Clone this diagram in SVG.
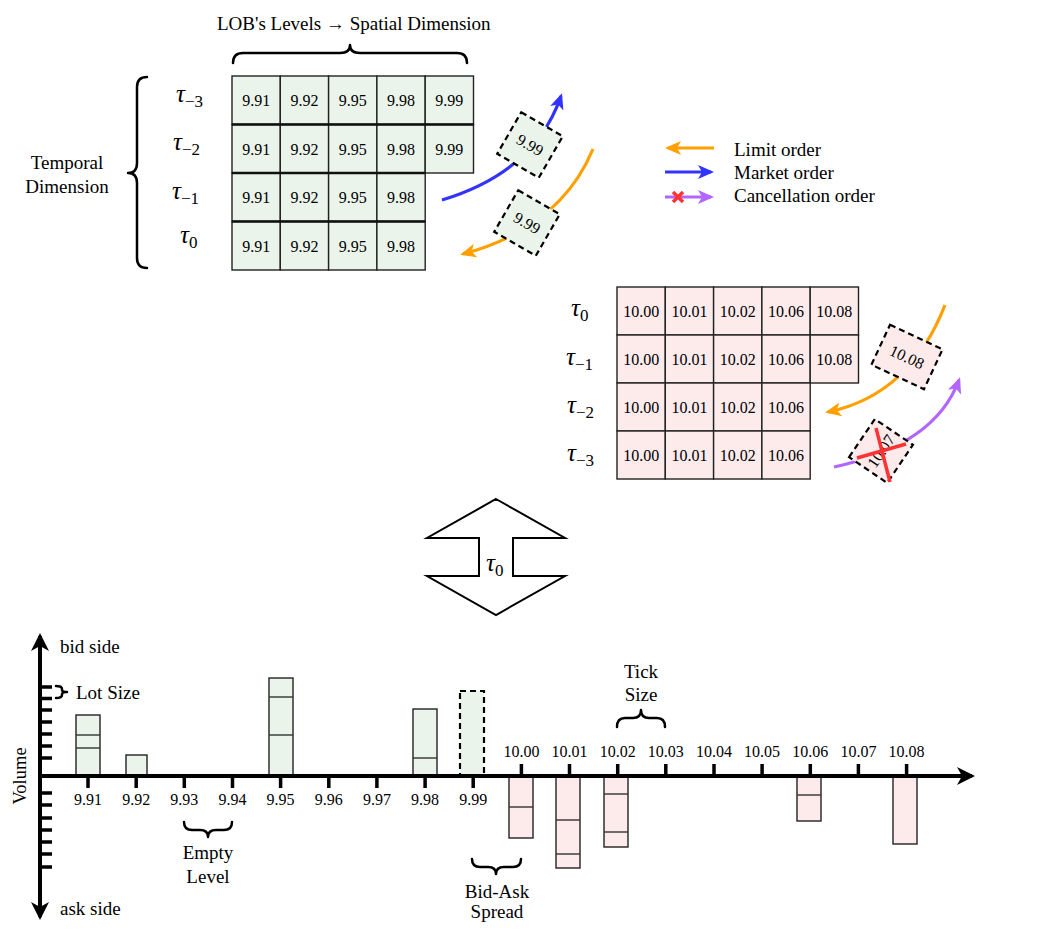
<svg xmlns="http://www.w3.org/2000/svg" width="1049" height="937" viewBox="0 0 1049 937">
<style>
text{font-family:"Liberation Serif","Times New Roman",serif;fill:#000}
.num{font-size:16px;text-anchor:middle}
.lbl{font-size:19px}
.mid{text-anchor:middle}
.g{fill:#ebf4ea;stroke:#222;stroke-width:1.4}
.r{fill:#fdeaea;stroke:#222;stroke-width:1.4}
.tau{font-size:25px;font-style:italic}
.sub{font-size:17px;font-style:normal}
.brace{fill:none;stroke:#000;stroke-width:2.5;stroke-linecap:round;stroke-linejoin:round}
.dash{stroke:#000;stroke-width:2.2;stroke-dasharray:6 4}
.rowsep{stroke:#111;stroke-width:2.6}
.bl{stroke:#333;stroke-width:1.4}
.tick{stroke:#000;stroke-width:3.5}
.ax{stroke:#000;stroke-width:4;fill:none}
.curve{fill:none;stroke-width:3.2}
</style>
<defs>
<marker id="ab" markerUnits="userSpaceOnUse" markerWidth="18" markerHeight="18" refX="15" refY="9" orient="auto-start-reverse"><path d="M0,0 L18,9 L0,18 L5,9 z" fill="#000"/></marker>
<marker id="ao" markerUnits="userSpaceOnUse" markerWidth="16" markerHeight="14" refX="13" refY="7" orient="auto"><path d="M0,0 L16,7 L0,14 L4,7 z" fill="#ffa000"/></marker>
<marker id="abl" markerUnits="userSpaceOnUse" markerWidth="16" markerHeight="14" refX="13" refY="7" orient="auto"><path d="M0,0 L16,7 L0,14 L4,7 z" fill="#3333ff"/></marker>
<marker id="ap" markerUnits="userSpaceOnUse" markerWidth="16" markerHeight="14" refX="13" refY="7" orient="auto"><path d="M0,0 L16,7 L0,14 L4,7 z" fill="#b266ff"/></marker>
</defs>

<!-- Bid table (green) -->
<g id="bid-table">
<g class="num">
<rect class="g" x="232" y="76" width="48.3" height="48.5"/><text x="256.2" y="106">9.91</text>
<rect class="g" x="280.3" y="76" width="48.3" height="48.5"/><text x="304.5" y="106">9.92</text>
<rect class="g" x="328.6" y="76" width="48.3" height="48.5"/><text x="352.8" y="106">9.95</text>
<rect class="g" x="376.9" y="76" width="48.3" height="48.5"/><text x="401" y="106">9.98</text>
<rect class="g" x="425.2" y="76" width="48.3" height="48.5"/><text x="449.3" y="106">9.99</text>
<rect class="g" x="232" y="124.5" width="48.3" height="48.5"/><text x="256.2" y="154.5">9.91</text>
<rect class="g" x="280.3" y="124.5" width="48.3" height="48.5"/><text x="304.5" y="154.5">9.92</text>
<rect class="g" x="328.6" y="124.5" width="48.3" height="48.5"/><text x="352.8" y="154.5">9.95</text>
<rect class="g" x="376.9" y="124.5" width="48.3" height="48.5"/><text x="401" y="154.5">9.98</text>
<rect class="g" x="425.2" y="124.5" width="48.3" height="48.5"/><text x="449.3" y="154.5">9.99</text>
<rect class="g" x="232" y="173" width="48.3" height="48.5"/><text x="256.2" y="203">9.91</text>
<rect class="g" x="280.3" y="173" width="48.3" height="48.5"/><text x="304.5" y="203">9.92</text>
<rect class="g" x="328.6" y="173" width="48.3" height="48.5"/><text x="352.8" y="203">9.95</text>
<rect class="g" x="376.9" y="173" width="48.3" height="48.5"/><text x="401" y="203">9.98</text>
<rect class="g" x="232" y="221.5" width="48.3" height="48.5"/><text x="256.2" y="251.5">9.91</text>
<rect class="g" x="280.3" y="221.5" width="48.3" height="48.5"/><text x="304.5" y="251.5">9.92</text>
<rect class="g" x="328.6" y="221.5" width="48.3" height="48.5"/><text x="352.8" y="251.5">9.95</text>
<rect class="g" x="376.9" y="221.5" width="48.3" height="48.5"/><text x="401" y="251.5">9.98</text>
</g>
<line class="rowsep" x1="232" y1="124.5" x2="473.5" y2="124.5"/>
<line class="rowsep" x1="232" y1="173" x2="425.2" y2="173"/>
<line class="rowsep" x1="232" y1="221.5" x2="425.2" y2="221.5"/>
<text class="tau" x="176" y="102">τ<tspan class="sub" dy="5">−3</tspan></text>
<text class="tau" x="173" y="150">τ<tspan class="sub" dy="5">−2</tspan></text>
<text class="tau" x="172" y="199">τ<tspan class="sub" dy="5">−1</tspan></text>
<text class="tau" x="180" y="243">τ<tspan class="sub" dy="5">0</tspan></text>
<path class="brace" d="M233,63 Q233,53 243,53 L340,53 Q350,53 350,45 Q350,53 360,53 L457,53 Q467,53 467,63"/>
<text class="lbl" x="217" y="30">LOB's Levels → Spatial Dimension</text>
<path class="brace" d="M147,77 Q137,77 137,87 L137,163 Q137,173 128,173 Q137,173 137,183 L137,258 Q137,268 147,268"/>
<text class="lbl mid" x="67" y="169">Temporal</text>
<text class="lbl mid" x="67" y="193">Dimension</text>
</g>

<!-- Ask table (red) -->
<g id="ask-table">
<g class="num">
<rect class="r" x="617" y="287" width="48.3" height="48"/><text x="641.2" y="316.5">10.00</text>
<rect class="r" x="665.3" y="287" width="48.3" height="48"/><text x="689.5" y="316.5">10.01</text>
<rect class="r" x="713.6" y="287" width="48.3" height="48"/><text x="737.8" y="316.5">10.02</text>
<rect class="r" x="761.9" y="287" width="48.3" height="48"/><text x="786" y="316.5">10.06</text>
<rect class="r" x="810.2" y="287" width="48.3" height="48"/><text x="834.3" y="316.5">10.08</text>
<rect class="r" x="617" y="335" width="48.3" height="48"/><text x="641.2" y="364.5">10.00</text>
<rect class="r" x="665.3" y="335" width="48.3" height="48"/><text x="689.5" y="364.5">10.01</text>
<rect class="r" x="713.6" y="335" width="48.3" height="48"/><text x="737.8" y="364.5">10.02</text>
<rect class="r" x="761.9" y="335" width="48.3" height="48"/><text x="786" y="364.5">10.06</text>
<rect class="r" x="810.2" y="335" width="48.3" height="48"/><text x="834.3" y="364.5">10.08</text>
<rect class="r" x="617" y="383" width="48.3" height="48"/><text x="641.2" y="412.5">10.00</text>
<rect class="r" x="665.3" y="383" width="48.3" height="48"/><text x="689.5" y="412.5">10.01</text>
<rect class="r" x="713.6" y="383" width="48.3" height="48"/><text x="737.8" y="412.5">10.02</text>
<rect class="r" x="761.9" y="383" width="48.3" height="48"/><text x="786" y="412.5">10.06</text>
<rect class="r" x="617" y="431" width="48.3" height="48"/><text x="641.2" y="460.5">10.00</text>
<rect class="r" x="665.3" y="431" width="48.3" height="48"/><text x="689.5" y="460.5">10.01</text>
<rect class="r" x="713.6" y="431" width="48.3" height="48"/><text x="737.8" y="460.5">10.02</text>
<rect class="r" x="761.9" y="431" width="48.3" height="48"/><text x="786" y="460.5">10.06</text>
</g>
<text class="tau" x="571" y="316">τ<tspan class="sub" dy="5">0</tspan></text>
<text class="tau" x="566" y="365">τ<tspan class="sub" dy="5">−1</tspan></text>
<text class="tau" x="567" y="413">τ<tspan class="sub" dy="5">−2</tspan></text>
<text class="tau" x="567" y="461">τ<tspan class="sub" dy="5">−3</tspan></text>
</g>

<!-- order connectors -->
<g id="connectors">
<path class="curve" stroke="#3333ff" d="M442,200 Q535,172 561,96" marker-end="url(#abl)"/>
<path class="curve" stroke="#ffa000" d="M593,149 Q560,228 463,254" marker-end="url(#ao)"/>
<path class="curve" stroke="#ffa000" d="M945,305 Q910,395 828,412" marker-end="url(#ao)"/>
<path class="curve" stroke="#b266ff" d="M834,467 Q935,445 959,380" marker-end="url(#ap)"/>
</g>

<!-- moving orders (dashed) -->
<g id="order-999-market" transform="translate(530,145) rotate(30)">
<rect class="g dash" x="-24" y="-24" width="48" height="48"/><text class="num" y="5.5">9.99</text>
</g>
<g id="order-999-limit" transform="translate(527,223) rotate(30)">
<rect class="g dash" x="-24" y="-24" width="48" height="48"/><text class="num" y="5.5">9.99</text>
</g>
<g id="order-1008-limit" transform="translate(907,357) rotate(25)">
<rect class="r dash" x="-29" y="-22" width="58" height="44"/><text class="num" y="5.5">10.08</text>
</g>
<g id="order-1007-cancel">
<g transform="translate(881,451) rotate(-56)">
<rect class="r dash" x="-23" y="-23" width="46" height="46"/><text class="num" y="5.5">10.07</text>
</g>
<line x1="857" y1="458" x2="906" y2="444" stroke="#ff3333" stroke-width="3.5"/>
<line x1="876" y1="428" x2="890" y2="482" stroke="#ff3333" stroke-width="3.5"/>
</g>

<!-- legend -->
<g id="legend">
<line x1="714" y1="148" x2="668" y2="148" class="curve" stroke="#ffa000" marker-end="url(#ao)"/>
<line x1="665" y1="172" x2="711" y2="172" class="curve" stroke="#3333ff" marker-end="url(#abl)"/>
<line x1="665" y1="197" x2="711" y2="197" class="curve" stroke="#b266ff" marker-end="url(#ap)"/>
<path d="M673,192 L683,202 M683,192 L673,202" stroke="#ff3333" stroke-width="3.5"/>
<text class="lbl" x="734" y="155.5">Limit order</text>
<text class="lbl" x="734" y="178.5">Market order</text>
<text class="lbl" x="734" y="202">Cancellation order</text>
</g>

<!-- snapshot double arrow -->
<g id="snapshot-arrow">
<polygon points="496,499 565,538 513,538 513,576 565,576 496,615 427,576 479,576 479,538 427,538" fill="#fff" stroke="#000" stroke-width="2"/>
<text class="tau" x="486" y="571">τ<tspan class="sub" dy="5">0</tspan></text>
</g>

<!-- volume chart -->
<g id="chart">
<g id="bars">
<rect class="g" x="76" y="715" width="24" height="61"/><line class="bl" x1="76" y1="735" x2="100" y2="735"/><line class="bl" x1="76" y1="748" x2="100" y2="748"/>
<rect class="g" x="126" y="755" width="21" height="21"/>
<rect class="g" x="269" y="678" width="24" height="98"/><line class="bl" x1="269" y1="697" x2="293" y2="697"/><line class="bl" x1="269" y1="735" x2="293" y2="735"/>
<rect class="g" x="413" y="709" width="24" height="67"/><line class="bl" x1="413" y1="758" x2="437" y2="758"/>
<rect class="g dash" x="460" y="691" width="24" height="85"/>
<rect class="r" x="509" y="777" width="24" height="61"/><line class="bl" x1="509" y1="807" x2="533" y2="807"/>
<rect class="r" x="556" y="777" width="24" height="91"/><line class="bl" x1="556" y1="820" x2="580" y2="820"/><line class="bl" x1="556" y1="854" x2="580" y2="854"/>
<rect class="r" x="604" y="777" width="24" height="70"/><line class="bl" x1="604" y1="794" x2="628" y2="794"/><line class="bl" x1="604" y1="832" x2="628" y2="832"/>
<rect class="r" x="797" y="777" width="24" height="44"/><line class="bl" x1="797" y1="795" x2="821" y2="795"/>
<rect class="r" x="893" y="777" width="24" height="67"/>
</g>
<g id="axes">
<line class="ax" x1="40" y1="917" x2="40" y2="636" marker-start="url(#ab)" marker-end="url(#ab)"/>
<line class="ax" x1="38" y1="776" x2="972" y2="776" marker-end="url(#ab)"/>
<path class="tick" d="M40,687H52M40,698.5H52M40,710H52M40,722H52M40,734H52M40,746H52M40,758H52M40,793H52M40,805H52M40,818H52M40,830H52M40,842H52M40,854H52M40,867H52"/>
<path class="tick" d="M88,776V788M136.2,776V788M184.3,776V788M232.5,776V788M280.6,776V788M328.8,776V788M376.9,776V788M425.1,776V788M473.2,776V788"/>
<path class="tick" d="M521.4,776V764M569.5,776V764M617.7,776V764M665.8,776V764M714,776V764M762.1,776V764M810.3,776V764M858.4,776V764M906.6,776V764"/>
</g>
<g class="num">
<text x="88" y="805">9.91</text><text x="136.2" y="805">9.92</text><text x="184.3" y="805">9.93</text><text x="232.5" y="805">9.94</text><text x="280.6" y="805">9.95</text><text x="328.8" y="805">9.96</text><text x="376.9" y="805">9.97</text><text x="425.1" y="805">9.98</text><text x="473.2" y="805">9.99</text>
<text x="521.4" y="757">10.00</text><text x="569.5" y="757">10.01</text><text x="617.7" y="757">10.02</text><text x="665.8" y="757">10.03</text><text x="714" y="757">10.04</text><text x="762.1" y="757">10.05</text><text x="810.3" y="757">10.06</text><text x="858.4" y="757">10.07</text><text x="906.6" y="757">10.08</text>
</g>
<text class="lbl" x="60" y="653">bid side</text>
<text class="lbl" x="60" y="915">ask side</text>
<text class="mid" font-size="18.5" transform="translate(26,776) rotate(-90)">Volume</text>
<path class="brace" d="M56,686 Q62,686 62,689 L62,690 Q62,692 67,692 Q62,692 62,694 L62,695 Q62,698 56,698"/>
<text class="lbl" x="76" y="699">Lot Size</text>
<path class="brace" d="M184,822 Q184,830 192,830 L200,830 Q208,830 208,837 Q208,830 216,830 L224,830 Q232,830 232,822"/>
<text class="lbl mid" x="208" y="859">Empty</text>
<text class="lbl mid" x="208" y="883">Level</text>
<path class="brace" d="M472,859 Q472,867 480,867 L488,867 Q496,867 496,874 Q496,867 504,867 L513,867 Q521,867 521,859"/>
<text class="lbl mid" x="497" y="898">Bid-Ask</text>
<text class="lbl mid" x="497" y="918">Spread</text>
<path class="brace" d="M617,727 Q617,718 625,718 L633,718 Q641,718 641,710 Q641,718 649,718 L657,718 Q665,718 665,727"/>
<text class="lbl mid" x="641" y="678">Tick</text>
<text class="lbl mid" x="641" y="701">Size</text>
</g>
</svg>
